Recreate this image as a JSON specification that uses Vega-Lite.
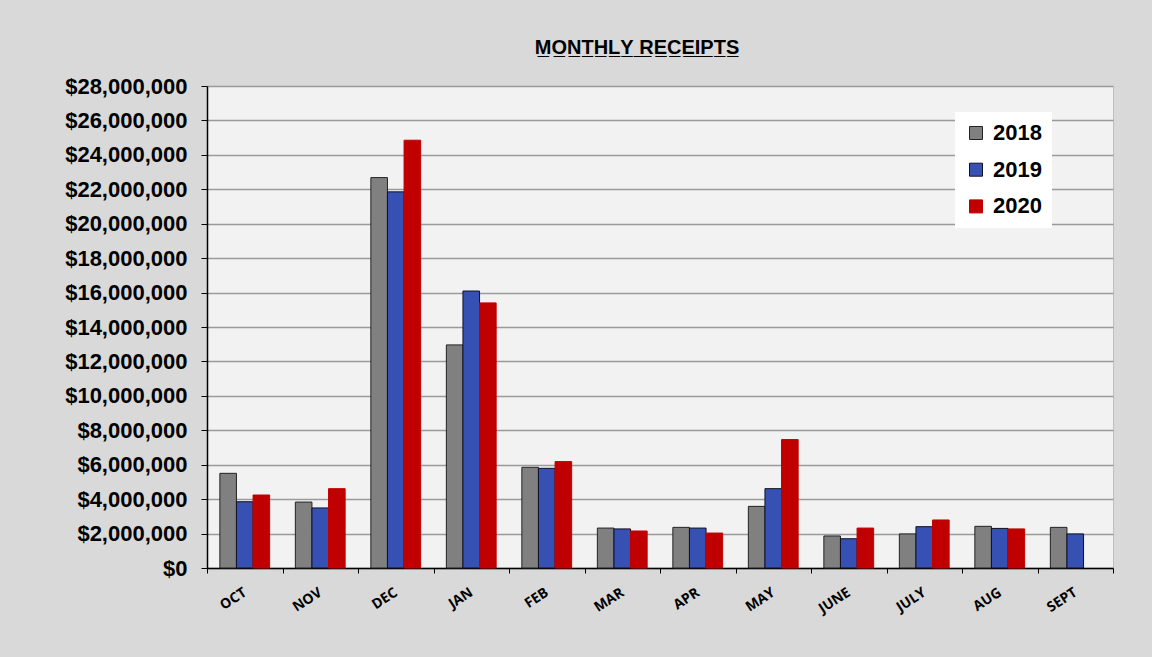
{
  "$schema": "https://vega.github.io/schema/vega-lite/v6.json",
  "autosize": {"type": "none"},
  "width": 906,
  "height": 482,
  "padding": {"left": 207, "top": 86, "right": 39, "bottom": 89},
  "background": "#d9d9d9",
  "title": {
    "text": "M\u0332O\u0332N\u0332T\u0332H\u0332L\u0332Y\u0332 \u0332R\u0332E\u0332C\u0332E\u0332I\u0332P\u0332T\u0332S\u0332",
    "font": "Liberation Sans",
    "fontSize": 20,
    "fontWeight": "bold",
    "color": "black",
    "anchor": "middle",
    "dx": -23,
    "offset": 17
  },
  "data": {
    "values": [
      {"month": "OCT", "year": "2018", "value": 5500000},
      {"month": "OCT", "year": "2019", "value": 3850000},
      {"month": "OCT", "year": "2020", "value": 4240000},
      {"month": "NOV", "year": "2018", "value": 3830000},
      {"month": "NOV", "year": "2019", "value": 3490000},
      {"month": "NOV", "year": "2020", "value": 4610000},
      {"month": "DEC", "year": "2018", "value": 22680000},
      {"month": "DEC", "year": "2019", "value": 21850000},
      {"month": "DEC", "year": "2020", "value": 24850000},
      {"month": "JAN", "year": "2018", "value": 12960000},
      {"month": "JAN", "year": "2019", "value": 16090000},
      {"month": "JAN", "year": "2020", "value": 15400000},
      {"month": "FEB", "year": "2018", "value": 5850000},
      {"month": "FEB", "year": "2019", "value": 5790000},
      {"month": "FEB", "year": "2020", "value": 6180000},
      {"month": "MAR", "year": "2018", "value": 2320000},
      {"month": "MAR", "year": "2019", "value": 2270000},
      {"month": "MAR", "year": "2020", "value": 2150000},
      {"month": "APR", "year": "2018", "value": 2360000},
      {"month": "APR", "year": "2019", "value": 2320000},
      {"month": "APR", "year": "2020", "value": 2030000},
      {"month": "MAY", "year": "2018", "value": 3580000},
      {"month": "MAY", "year": "2019", "value": 4610000},
      {"month": "MAY", "year": "2020", "value": 7460000},
      {"month": "JUNE", "year": "2018", "value": 1860000},
      {"month": "JUNE", "year": "2019", "value": 1700000},
      {"month": "JUNE", "year": "2020", "value": 2320000},
      {"month": "JULY", "year": "2018", "value": 1980000},
      {"month": "JULY", "year": "2019", "value": 2400000},
      {"month": "JULY", "year": "2020", "value": 2790000},
      {"month": "AUG", "year": "2018", "value": 2420000},
      {"month": "AUG", "year": "2019", "value": 2300000},
      {"month": "AUG", "year": "2020", "value": 2270000},
      {"month": "SEPT", "year": "2018", "value": 2360000},
      {"month": "SEPT", "year": "2019", "value": 1980000}
    ]
  },
  "mark": {"type": "bar", "strokeWidth": 1},
  "encoding": {
    "x": {
      "field": "month",
      "type": "nominal",
      "sort": ["OCT", "NOV", "DEC", "JAN", "FEB", "MAR", "APR", "MAY", "JUNE", "JULY", "AUG", "SEPT"],
      "scale": {"paddingInner": 0, "paddingOuter": 0},
      "axis": {
        "title": null,
        "tickBand": "extent",
        "labelAngle": -33,
        "labelAlign": "right",
        "labelBaseline": "middle",
        "labelPadding": 18,
        "labelFont": "Open Sans",
        "labelFontSize": 14,
        "labelFontWeight": "bold",
        "labelColor": "black",
        "domainColor": "black",
        "domainWidth": 1.5,
        "tickColor": "black",
        "tickSize": 5,
        "tickWidth": 1
      }
    },
    "xOffset": {
      "field": "year",
      "type": "nominal",
      "scale": {"paddingInner": 0, "paddingOuter": 0.774}
    },
    "y": {
      "field": "value",
      "type": "quantitative",
      "scale": {"domain": [0, 28000000], "nice": false},
      "axis": {
        "title": null,
        "values": [0, 2000000, 4000000, 6000000, 8000000, 10000000, 12000000, 14000000, 16000000, 18000000, 20000000, 22000000, 24000000, 26000000, 28000000],
        "format": "$,.0f",
        "labelFont": "Liberation Sans",
        "labelFontSize": 22,
        "labelFontWeight": "bold",
        "labelColor": "black",
        "labelPadding": 14,
        "domainColor": "black",
        "domainWidth": 1.5,
        "tickColor": "black",
        "tickSize": 6,
        "grid": true,
        "gridColor": "#9a9a9a",
        "gridWidth": 1.5
      }
    },
    "color": {
      "field": "year",
      "type": "nominal",
      "scale": {"domain": ["2018", "2019", "2020"], "range": ["#808080", "#3650b4", "#c00000"]},
      "legend": {
        "title": null,
        "orient": "none",
        "legendX": 748,
        "legendY": 26,
        "fillColor": "white",
        "padding": 10,
        "symbolType": "square",
        "symbolSize": 169,
        "symbolStrokeWidth": 1,
        "labelFont": "Liberation Sans",
        "labelFontSize": 22,
        "labelFontWeight": "bold",
        "labelColor": "black",
        "labelOffset": 6,
        "rowPadding": 14.7
      }
    },
    "stroke": {
      "field": "year",
      "type": "nominal",
      "scale": {"domain": ["2018", "2019", "2020"], "range": ["#222222", "#111122", "#c00000"]}
    }
  },
  "config": {
    "view": {"fill": "#f2f2f2", "stroke": "#bfbfbf", "strokeWidth": 1}
  }
}
